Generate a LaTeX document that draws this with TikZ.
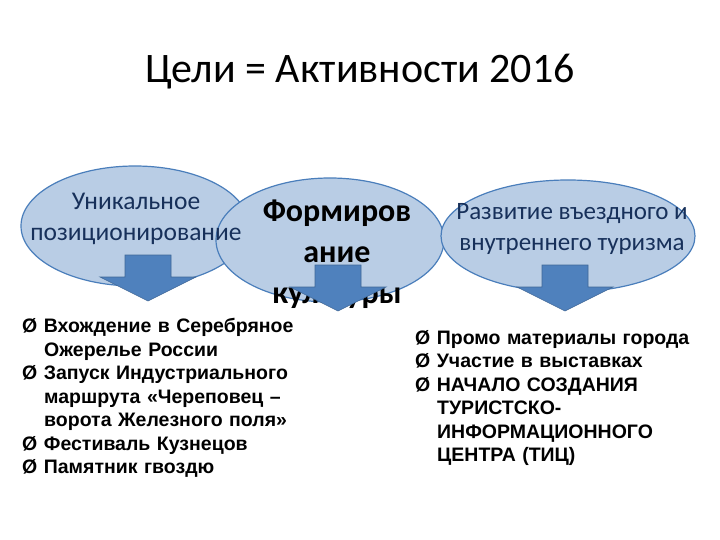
\documentclass[tikz,border=0pt]{standalone}
\usepackage{fontspec}
\setmainfont{Carlito}
\newfontfamily\arialf{Liberation Sans}
\definecolor{ellfill}{HTML}{B9CDE5}
\definecolor{elldraw}{HTML}{4A7EBB}
\definecolor{arrfill}{HTML}{4F81BD}
\definecolor{txtblue}{HTML}{17305A}
\begin{document}
\begin{tikzpicture}[x=1pt,y=-1pt,
  dnarrow/.style={fill=arrfill,draw=arrfill!80!black,line width=0.6pt},
  blist/.style={anchor=north west,align=left,font=\arialf\bfseries\fontsize{19.5}{23.5}\selectfont,text width=320pt,inner sep=0pt}]
\useasboundingbox[fill=white] (0,0) rectangle (720,540);
\node (title) at (360,72) {\fontsize{42}{48}\selectfont Цели = Активности 2016};
\fill[ellfill,draw=elldraw,line width=1.2pt] (135,226) ellipse (114 and 60);
\coordinate (e1) at (135,226);
\fill[ellfill,draw=elldraw,line width=1.2pt] (330,240) ellipse (114 and 62);
\coordinate (e2) at (330,240);
\fill[ellfill,draw=elldraw,line width=1.2pt] (568,236) ellipse (127 and 56);
\coordinate (e3) at (568,236);
\node[align=center,text=txtblue,font=\fontsize{25.5}{31}\selectfont] (t1) at (136,219) {Уникальное\\позиционирование};
\node[align=center,font=\bfseries\fontsize{32}{41}\selectfont] (t2) at (337,254) {Формиров\\ание\\культуры};
\node[align=center,text=txtblue,font=\fontsize{25}{31}\selectfont] (t3) at (572,229) {Развитие въездного и\\внутреннего туризма};
\foreach \cx/\top in {148/255, 338/265, 565/265}{
  \draw[dnarrow] (\cx-23,\top) -- (\cx+23,\top) -- (\cx+23,\top+22) -- (\cx+48,\top+22)
    -- (\cx,\top+46) -- (\cx-48,\top+22) -- (\cx-23,\top+22) -- cycle;
}
\node[blist] (l1) at (22,318) {Ø Вхождение в Серебряное\\
\hspace*{22pt}Ожерелье России\\
Ø Запуск Индустриального\\
\hspace*{22pt}маршрута «Череповец –\\
\hspace*{22pt}ворота Железного поля»\\
Ø Фестиваль Кузнецов\\
Ø Памятник гвоздю};
\node[blist] (l2) at (415,330) {Ø Промо материалы города\\
Ø Участие в выставках\\
Ø НАЧАЛО СОЗДАНИЯ\\
\hspace*{22pt}ТУРИСТСКО-\\
\hspace*{22pt}ИНФОРМАЦИОННОГО\\
\hspace*{22pt}ЦЕНТРА (ТИЦ)};
\end{tikzpicture}
\end{document}
